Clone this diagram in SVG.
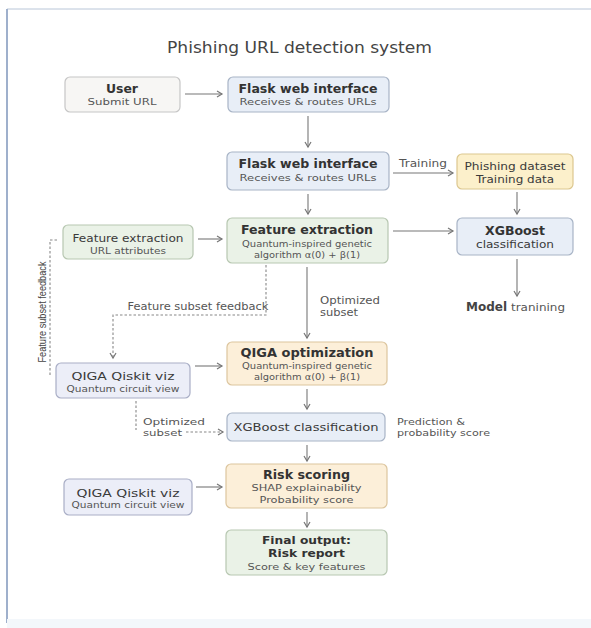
<svg xmlns="http://www.w3.org/2000/svg" width="591" height="628" viewBox="0 0 591 628">
<defs>
<marker id="arr" markerWidth="8" markerHeight="8" refX="6" refY="4" orient="auto" markerUnits="userSpaceOnUse">
<path d="M1,1 L6,4 L1,7" fill="none" stroke="#777" stroke-width="1.2"/>
</marker>
<style>
text{font-family:"DejaVu Sans","Open Sans",sans-serif;text-anchor:middle}
.t{font-size:12px;font-weight:700;fill:#333}
.tb{font-size:11px;font-weight:700;fill:#333}
.m{font-size:11px;fill:#3a3a3a}
.s{font-size:9.5px;fill:#555}
.s9{font-size:9px;fill:#555}
.lb{font-size:10px;fill:#555}
.lb9{font-size:9.5px;fill:#555}
.st{text-anchor:start}
.blue{fill:#e8eef7;stroke:#a8b4c6;stroke-width:1.2}
.green{fill:#eaf2e7;stroke:#b7c7b1;stroke-width:1.2}
.orange{fill:#fcefd9;stroke:#dcc59e;stroke-width:1.2}
.yellow{fill:#fcf0cb;stroke:#dcc78f;stroke-width:1.2}
.lav{fill:#eceef8;stroke:#a9aec6;stroke-width:1.2}
.gray{fill:#f7f6f4;stroke:#c6c6c6;stroke-width:1.2}
.c{fill:none;stroke:#777;stroke-width:1.1}
.d{fill:none;stroke:#888;stroke-width:1.1;stroke-dasharray:2.5 2}
</style>
</defs>
<rect width="591" height="628" fill="#ffffff"/>
<g id="frame">
<line x1="7" y1="9" x2="591" y2="9" stroke="#b9c6d8" stroke-width="1"/>
<line x1="7" y1="9" x2="7" y2="623" stroke="#9fb0cc" stroke-width="2"/>
<rect x="7" y="619" width="584" height="9" fill="#f3f7fb"/>
</g>
<text x="299.5" y="52.5" textLength="265" lengthAdjust="spacingAndGlyphs" style="font-size:16px;fill:#444">Phishing URL detection system</text>
<g id="connectors">
<line class="c" x1="185" y1="94" x2="222" y2="94" marker-end="url(#arr)"/>
<line class="c" x1="308" y1="116" x2="308" y2="147" marker-end="url(#arr)"/>
<line class="c" x1="308" y1="194" x2="308" y2="214" marker-end="url(#arr)"/>
<line class="c" x1="393" y1="173" x2="453" y2="173" marker-end="url(#arr)"/>
<line class="c" x1="198" y1="239" x2="222" y2="239" marker-end="url(#arr)"/>
<line class="c" x1="393" y1="231" x2="453" y2="231" marker-end="url(#arr)"/>
<line class="c" x1="517" y1="192" x2="517" y2="214" marker-end="url(#arr)"/>
<line class="c" x1="517" y1="259" x2="517" y2="296" marker-end="url(#arr)"/>
<line class="c" x1="307" y1="267" x2="307" y2="338" marker-end="url(#arr)"/>
<line class="c" x1="195" y1="366" x2="222" y2="366" marker-end="url(#arr)"/>
<line class="c" x1="307" y1="389" x2="307" y2="409" marker-end="url(#arr)"/>
<line class="c" x1="307" y1="445" x2="307" y2="461" marker-end="url(#arr)"/>
<line class="c" x1="196" y1="487" x2="222" y2="487" marker-end="url(#arr)"/>
<line class="c" x1="307" y1="512" x2="307" y2="527" marker-end="url(#arr)"/>
<polyline class="d" points="266,265 266,315 113,315 113,358" marker-end="url(#arr)"/>
<polyline class="d" points="57,240 50,240 50,377"/>
<line class="d" x1="136" y1="401" x2="136" y2="430"/>
<line class="d" x1="186" y1="432" x2="223" y2="432" marker-end="url(#arr)"/>
<text class="lb" x="423" y="166.5" textLength="48" lengthAdjust="spacingAndGlyphs">Training</text>
<text class="lb" x="198" y="309.5" textLength="141" lengthAdjust="spacingAndGlyphs">Feature subset feedback</text>
<text class="lb st" x="320" y="303.5" textLength="60" lengthAdjust="spacingAndGlyphs">Optimized</text>
<text class="lb st" x="320" y="315.5" textLength="38" lengthAdjust="spacingAndGlyphs">subset</text>
<text class="lb9 st" x="143" y="425.3" textLength="62" lengthAdjust="spacingAndGlyphs">Optimized</text>
<text class="lb9 st" x="143" y="436.3" textLength="39" lengthAdjust="spacingAndGlyphs">subset</text>
<text class="lb9 st" x="397" y="425.3" textLength="68" lengthAdjust="spacingAndGlyphs">Prediction &amp;</text>
<text class="lb9 st" x="397" y="436.3" textLength="93" lengthAdjust="spacingAndGlyphs">probability score</text>
<text x="42" y="315.5" transform="rotate(-90 42 312)" textLength="101" lengthAdjust="spacingAndGlyphs" style="font-size:10px;fill:#444;font-family:'Liberation Sans',sans-serif">Feature subset feedback</text>
<text class="st" x="466" y="311" textLength="41" lengthAdjust="spacingAndGlyphs" style="font-size:12px;font-weight:700;fill:#444">Model</text>
<text class="st lb" x="511" y="311" textLength="54" lengthAdjust="spacingAndGlyphs">tranining</text>
</g>
<g id="user">
<rect class="gray" x="65" y="77" width="115" height="35" rx="5"/>
<text class="t" x="122" y="93" textLength="32" lengthAdjust="spacingAndGlyphs">User</text>
<text class="s" x="122" y="105.3" textLength="69" lengthAdjust="spacingAndGlyphs">Submit URL</text>
</g>
<g id="flask1">
<rect class="blue" x="228" y="77" width="161" height="35" rx="5"/>
<text class="t" x="308" y="93" textLength="139" lengthAdjust="spacingAndGlyphs">Flask web interface</text>
<text class="s" x="308" y="105.3" textLength="137" lengthAdjust="spacingAndGlyphs">Receives &amp; routes URLs</text>
</g>
<g id="flask2">
<rect class="blue" x="227" y="152" width="162" height="38" rx="5"/>
<text class="t" x="308" y="168.2" textLength="139" lengthAdjust="spacingAndGlyphs">Flask web interface</text>
<text class="s" x="308" y="181.3" textLength="137" lengthAdjust="spacingAndGlyphs">Receives &amp; routes URLs</text>
</g>
<g id="dataset">
<rect class="yellow" x="457" y="154" width="116" height="35" rx="5"/>
<text class="m" x="515" y="169.8" textLength="101" lengthAdjust="spacingAndGlyphs" style="font-size:10.5px">Phishing dataset</text>
<text class="m" x="515" y="183" textLength="78" lengthAdjust="spacingAndGlyphs" style="font-size:10.5px">Training data</text>
</g>
<g id="fe-left">
<rect class="green" x="63" y="225" width="130" height="34" rx="5"/>
<text class="m" x="128" y="241.8" textLength="111" lengthAdjust="spacingAndGlyphs">Feature extraction</text>
<text class="s" x="128" y="253.5" textLength="76" lengthAdjust="spacingAndGlyphs">URL attributes</text>
</g>
<g id="fe-main">
<rect class="green" x="227" y="218" width="161" height="45" rx="5"/>
<text class="t" x="307" y="233.6" textLength="132" lengthAdjust="spacingAndGlyphs">Feature extraction</text>
<text class="s9" x="307" y="246.6" textLength="130" lengthAdjust="spacingAndGlyphs">Quantum-inspired genetic</text>
<text class="s9" x="307" y="257.6" textLength="106" lengthAdjust="spacingAndGlyphs">algorithm α(0) + β(1)</text>
</g>
<g id="xgb-train">
<rect class="blue" x="457" y="218" width="116" height="37" rx="5"/>
<text class="tb" x="515" y="234.8" textLength="60" lengthAdjust="spacingAndGlyphs" style="font-size:11.5px">XGBoost</text>
<text class="m" x="515" y="247.6" textLength="78" lengthAdjust="spacingAndGlyphs" style="font-size:10.5px">classification</text>
</g>
<g id="qiga-opt">
<rect class="orange" x="227" y="342" width="160" height="43" rx="5"/>
<text class="t" x="307" y="357.2" textLength="133" lengthAdjust="spacingAndGlyphs">QIGA optimization</text>
<text class="s9" x="307" y="369.1" textLength="130" lengthAdjust="spacingAndGlyphs">Quantum-inspired genetic</text>
<text class="s9" x="307" y="379.6" textLength="106" lengthAdjust="spacingAndGlyphs">algorithm α(0) + β(1)</text>
</g>
<g id="qiskit1">
<rect class="lav" x="56" y="363" width="134" height="35" rx="5"/>
<text class="m" x="123" y="379.8" textLength="103" lengthAdjust="spacingAndGlyphs">QIGA Qiskit viz</text>
<text class="s" x="123" y="392.3" textLength="113" lengthAdjust="spacingAndGlyphs">Quantum circuit view</text>
</g>
<g id="xgb-class">
<rect class="blue" x="227" y="413" width="158" height="28" rx="5"/>
<text class="m" x="306" y="430.8" textLength="145" lengthAdjust="spacingAndGlyphs">XGBoost classification</text>
</g>
<g id="risk">
<rect class="orange" x="226" y="464" width="161" height="44" rx="5"/>
<text class="t" x="306.5" y="479.2" textLength="87" lengthAdjust="spacingAndGlyphs">Risk scoring</text>
<text class="s" x="306.5" y="491.3" textLength="110" lengthAdjust="spacingAndGlyphs">SHAP explainability</text>
<text class="s" x="306.5" y="502.8" textLength="94" lengthAdjust="spacingAndGlyphs">Probability score</text>
</g>
<g id="qiskit2">
<rect class="lav" x="64" y="479" width="128" height="36" rx="5"/>
<text class="m" x="128" y="496.8" textLength="103" lengthAdjust="spacingAndGlyphs">QIGA Qiskit viz</text>
<text class="s" x="128" y="508.3" textLength="113" lengthAdjust="spacingAndGlyphs">Quantum circuit view</text>
</g>
<g id="final">
<rect class="green" x="226" y="530" width="161" height="45" rx="5"/>
<text class="tb" x="306.5" y="543.8" textLength="89" lengthAdjust="spacingAndGlyphs">Final output:</text>
<text class="tb" x="306.5" y="556.8" textLength="77" lengthAdjust="spacingAndGlyphs">Risk report</text>
<text class="s" x="306.5" y="569.8" textLength="118" lengthAdjust="spacingAndGlyphs">Score &amp; key features</text>
</g>
</svg>
